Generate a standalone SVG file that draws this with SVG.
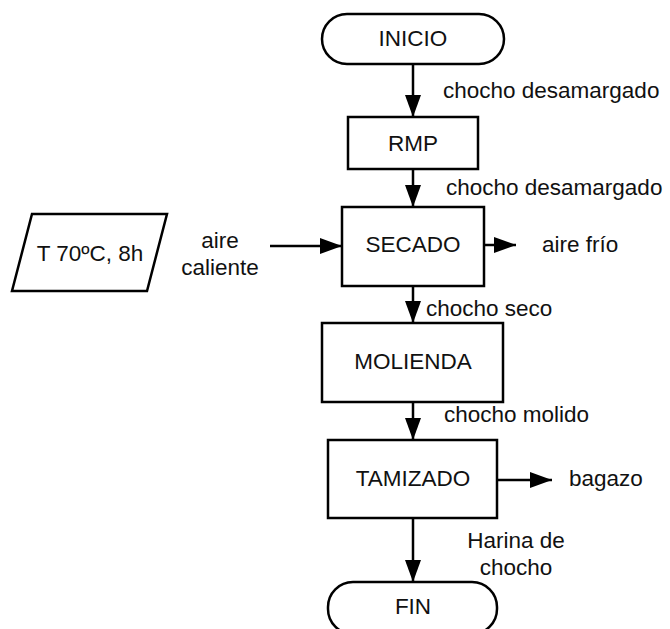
<svg xmlns="http://www.w3.org/2000/svg" width="670" height="629" viewBox="0 0 670 629">
  <defs>
    <marker id="arrow" markerUnits="userSpaceOnUse" markerWidth="22" markerHeight="16" refX="22" refY="8" orient="auto">
      <path d="M0,0 L22,8 L0,16 Z" fill="#000"/>
    </marker>
    <style>
      .shape { fill: #fff; stroke: #000; stroke-width: 2.5; }
      .edge { fill: none; stroke: #000; stroke-width: 2.5; marker-end: url(#arrow); }
      text { font-family: "Liberation Sans", Arial, sans-serif; font-size: 22.5px; fill: #111; }
      .c { text-anchor: middle; dominant-baseline: central; }
      .l { dominant-baseline: central; }
    </style>
  </defs>
  <rect width="670" height="629" fill="#fff"/>

  <g id="inicio">
    <rect class="shape" x="322" y="14" width="182" height="50" rx="25"/>
    <text class="c" x="413" y="38">INICIO</text>
  </g>
  <g id="rmp">
    <rect class="shape" x="348" y="117" width="130" height="52"/>
    <text class="c" x="413" y="143">RMP</text>
  </g>
  <g id="secado">
    <rect class="shape" x="342" y="207" width="142" height="79"/>
    <text class="c" x="413" y="244">SECADO</text>
  </g>
  <g id="condiciones">
    <polygon class="shape" points="32,214 167,214 147,291 12,291"/>
    <text class="c" x="90" y="253">T 70ºC, 8h</text>
  </g>
  <g id="molienda">
    <rect class="shape" x="322" y="323" width="181" height="79"/>
    <text class="c" x="413" y="361">MOLIENDA</text>
  </g>
  <g id="tamizado">
    <rect class="shape" x="328" y="440" width="169" height="78"/>
    <text class="c" x="413" y="478">TAMIZADO</text>
  </g>
  <g id="fin">
    <rect class="shape" x="328" y="582" width="169" height="52" rx="25"/>
    <text class="c" x="413" y="606">FIN</text>
  </g>

  <g id="connectors">
    <line class="edge" x1="413" y1="64" x2="413" y2="117"/>
    <line class="edge" x1="413" y1="169" x2="413" y2="207"/>
    <line class="edge" x1="270" y1="246" x2="342" y2="246"/>
    <line class="edge" x1="484" y1="245" x2="516" y2="245"/>
    <line class="edge" x1="413" y1="286" x2="413" y2="323"/>
    <line class="edge" x1="413" y1="402" x2="413" y2="440"/>
    <line class="edge" x1="497" y1="480" x2="552" y2="480"/>
    <line class="edge" x1="413" y1="518" x2="413" y2="582"/>
  </g>

  <g id="labels">
    <text class="l" x="443" y="90">chocho desamargado</text>
    <text class="l" x="446" y="187">chocho desamargado</text>
    <text class="c" x="220" y="240">aire</text>
    <text class="c" x="220" y="267">caliente</text>
    <text class="l" x="542" y="244">aire frío</text>
    <text class="l" x="426" y="308">chocho seco</text>
    <text class="l" x="444" y="414">chocho molido</text>
    <text class="l" x="569" y="478">bagazo</text>
    <text class="c" x="516" y="540">Harina de</text>
    <text class="c" x="516" y="567">chocho</text>
  </g>
</svg>
